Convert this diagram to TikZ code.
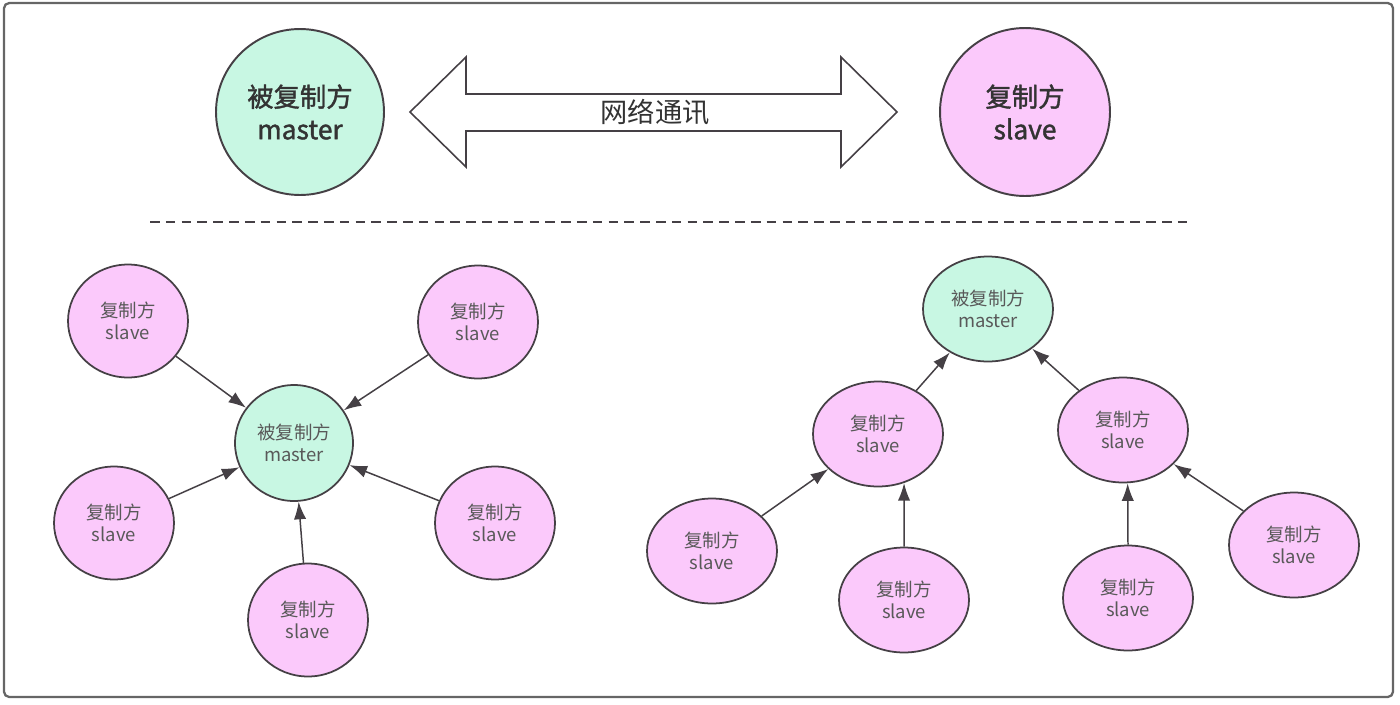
\documentclass[tikz,border=0pt]{standalone}
\usepackage{fontspec}
\setmainfont{Noto Sans CJK SC}
\newfontfamily\medfont[FakeBold=1.5]{Noto Sans CJK SC}
\usetikzlibrary{shapes.geometric,arrows.meta}
\definecolor{mastergreen}{HTML}{C8F7E3}
\definecolor{slavepink}{HTML}{FBC9FB}
\definecolor{edgegray}{HTML}{454045}
\begin{document}
\begin{tikzpicture}[x=0.02cm,y=-0.02cm,
  bignode/.style={ellipse,draw=edgegray,line width=1.1pt,inner sep=0pt,align=center,
    text=black!80,font=\fontsize{15}{18.5}\selectfont\medfont},
  smallnode/.style={ellipse,draw=edgegray,line width=1pt,inner sep=0pt,align=center,
    text=black!65,font=\fontsize{10.5}{12.5}\selectfont},
  master/.style={fill=mastergreen},
  slave/.style={fill=slavepink},
  starnode/.style={smallnode,minimum width=2.4cm,minimum height=2.26cm},
  treenode/.style={smallnode,minimum width=2.6cm,minimum height=2.1cm},
  link/.style={draw=edgegray,line width=0.85pt,-{Latex[length=10pt,width=7pt]}}]
  \useasboundingbox (0,0) rectangle (1400,704);
  % Frame
  \draw[black!60,line width=1.3pt,rounded corners=3pt] (4,3) rectangle (1393,697);
  % Top row
  \node[bignode,master,minimum width=3.36cm,minimum height=3.32cm] (topmaster) at (300,112) {被复制方\\master};
  \node[bignode,slave,minimum width=3.4cm,minimum height=3.36cm] (topslave) at (1025,112) {复制方\\slave};
  \draw[edgegray,line width=0.9pt,fill=white] (410,112) -- (466,57) -- (466,94) -- (841,94) -- (841,57)
    -- (897,112) -- (841,167) -- (841,131) -- (466,131) -- (466,167) -- cycle;
  \node[font=\fontsize{15.5}{18}\selectfont,text=black!80] (netlabel) at (655,112) {网络通讯};
  % Separator
  \draw[edgegray,line width=1pt,dash pattern=on 5.5pt off 3.5pt] (150,222) -- (1188,222);
  % Star layout
  \node[smallnode,master,minimum width=2.36cm,minimum height=2.32cm] (lmaster) at (294,443) {被复制方\\master};
  \node[starnode,slave] (ls1) at (128,321) {复制方\\slave};
  \node[starnode,slave] (ls2) at (478,322) {复制方\\slave};
  \node[starnode,slave] (ls3) at (114,523) {复制方\\slave};
  \node[starnode,slave] (ls4) at (495,523) {复制方\\slave};
  \node[starnode,slave] (ls5) at (308,620) {复制方\\slave};
  \foreach \s in {ls1,ls2,ls3,ls4,ls5}
    \draw[link] (\s) -- (lmaster);
  % Tree layout
  \node[treenode,master] (rmaster) at (988,309) {被复制方\\master};
  \node[treenode,slave] (rs1) at (878,434) {复制方\\slave};
  \node[treenode,slave] (rs2) at (1123,430) {复制方\\slave};
  \node[treenode,slave] (rs3) at (712,551) {复制方\\slave};
  \node[treenode,slave] (rs4) at (904,600) {复制方\\slave};
  \node[treenode,slave] (rs5) at (1128,598) {复制方\\slave};
  \node[treenode,slave] (rs6) at (1294,545) {复制方\\slave};
  \draw[link] (rs1) -- (rmaster);
  \draw[link] (rs2) -- (rmaster);
  \draw[link] (rs3) -- (rs1);
  \draw[link] (rs4.north) -- (rs1.-62);
  \draw[link] (rs5.north) -- (rs2.-85);
  \draw[link] (rs6) -- (rs2);
\end{tikzpicture}
\end{document}
